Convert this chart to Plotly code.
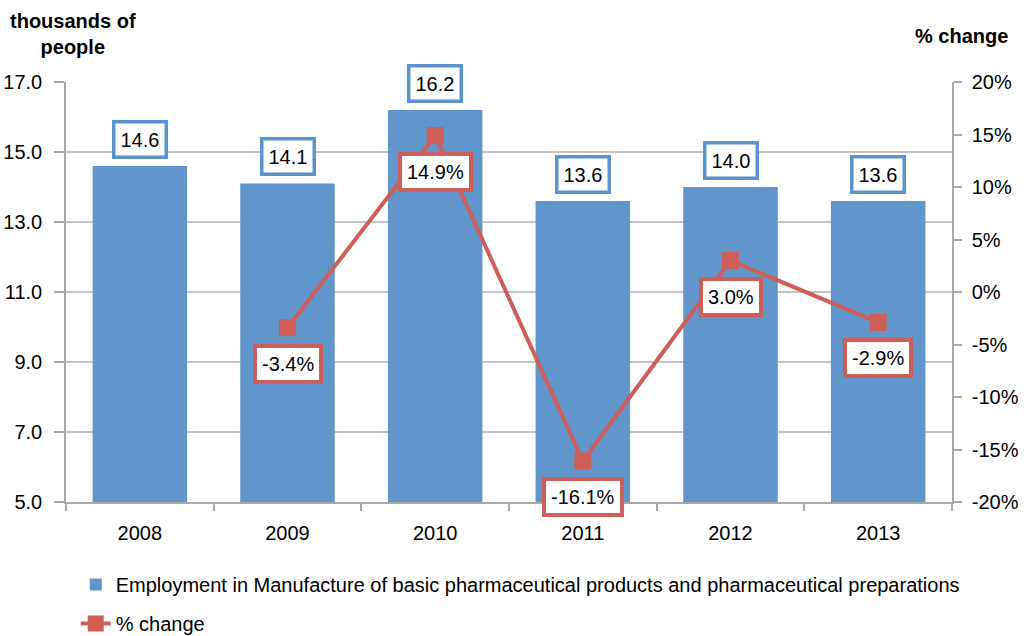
import plotly.graph_objects as go

years = ["2008", "2009", "2010", "2011", "2012", "2013"]
employment = [14.6, 14.1, 16.2, 13.6, 14.0, 13.6]
pct_change = [None, -3.4, 14.9, -16.1, 3.0, -2.9]

left_ticks = [5, 7, 9, 11, 13, 15, 17]
left_tick_text = ["5.0", "7.0", "9.0", "11.0", "13.0", "15.0", "17.0"]
right_ticks = [-20, -15, -10, -5, 0, 5, 10, 15, 20]
right_tick_text = ["-20%", "-15%", "-10%", "-5%", "0%", "5%", "10%", "15%", "20%"]

BAR = "#6196CA"
BAR_BORDER = "#5B93CE"
RED = "#CD5E5A"
GRID = "#C4C4C4"
AXIS = "#A8A8A8"
FONT = "Liberation Sans, Arial, sans-serif"

fig = go.Figure()
fig.add_trace(go.Bar(
    x=years, y=employment,
    name="Employment in Manufacture of basic pharmaceutical products and pharmaceutical preparations",
    marker=dict(color=BAR, line=dict(width=0)),
    legendgroup="a",
))
fig.add_trace(go.Scatter(
    x=years[1:], y=pct_change[1:], yaxis="y2",
    name="% change", mode="lines+markers",
    line=dict(color=RED, width=4),
    marker=dict(symbol="square", size=17, color=RED),
    legendgroup="b",
))

annotations = []
for i, v in enumerate(employment):
    annotations.append(dict(
        x=i, y=v, xref="x", yref="y", text=f"{v:.1f}", showarrow=False,
        yshift=27, xanchor="center", yanchor="middle",
        font=dict(family=FONT, size=20, color="black"),
        bgcolor="white", bordercolor=BAR_BORDER, borderwidth=3.5, borderpad=5,
    ))
for i, v in enumerate(pct_change):
    if v is None:
        continue
    annotations.append(dict(
        x=i, y=v, xref="x", yref="y2", text=f"{v:.1f}%", showarrow=False,
        yshift=-36, xanchor="center", yanchor="middle",
        font=dict(family=FONT, size=20, color="black"),
        bgcolor="white", bordercolor=RED, borderwidth=4, borderpad=5,
    ))
annotations.append(dict(
    x=0.008, y=1.114, xref="paper", yref="paper", text="<b>thousands of<br>people</b>",
    showarrow=False, xanchor="center", yanchor="middle",
    font=dict(family=FONT, size=20, color="black"),
))
annotations.append(dict(
    x=1.011, y=1.11, xref="paper", yref="paper", text="<b>% change</b>",
    showarrow=False, xanchor="center", yanchor="middle",
    font=dict(family=FONT, size=20, color="black"),
))

fig.update_layout(
    width=1031, height=636,
    margin=dict(l=66, r=79, t=82, b=134, autoexpand=False),
    paper_bgcolor="white", plot_bgcolor="white",
    font=dict(family=FONT, size=20, color="black"),
    bargap=0.36,
    showlegend=True,
    legend=dict(
        x=0.011, y=-0.15, xanchor="left", yanchor="top", orientation="v",
        traceorder="grouped", tracegroupgap=10,
        font=dict(family=FONT, size=20, color="black"),
        bgcolor="rgba(0,0,0,0)",
    ),
    xaxis=dict(
        type="category", categoryorder="array", categoryarray=years,
        range=[-0.5, len(years) - 0.5], autorange=False,
        showgrid=False, showline=True, linecolor=AXIS, linewidth=1.5,
        ticks="outside", tickson="boundaries", ticklen=7, tickcolor=AXIS, tickwidth=1.5,
        tickangle=0, automargin=False, ticklabelstandoff=12,
        tickfont=dict(family=FONT, size=20, color="black"),
    ),
    yaxis=dict(
        range=[5, 17], tickvals=left_ticks, ticktext=left_tick_text,
        showgrid=True, gridcolor=GRID, gridwidth=1.5,
        showline=True, linecolor=AXIS, linewidth=1.5,
        ticks="outside", ticklen=10, tickcolor=AXIS, tickwidth=1.5,
        ticklabelstandoff=8, zeroline=False, automargin=False,
        tickfont=dict(family=FONT, size=20, color="black"),
    ),
    yaxis2=dict(
        range=[-20, 20], tickvals=right_ticks, ticktext=right_tick_text,
        overlaying="y", side="right", showgrid=False, zeroline=False,
        showline=True, linecolor=AXIS, linewidth=1.5,
        ticks="outside", ticklen=8, tickcolor=AXIS, tickwidth=1.5,
        ticklabelstandoff=6, automargin=False,
        tickfont=dict(family=FONT, size=20, color="black"),
    ),
    annotations=annotations,
)

fig.write_html(
    "out.html",
    config={"displayModeBar": False},
    post_script="document.body.style.margin='0';document.body.style.padding='0';",
)
